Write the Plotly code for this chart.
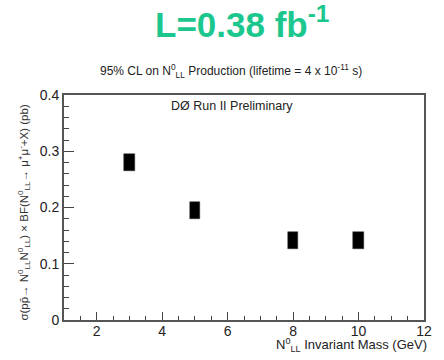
import plotly.graph_objects as go

# 95% CL limits on N0_LL production vs invariant mass
mass_gev = [3, 5, 8, 10]
xsec_pb = [0.280, 0.194, 0.141, 0.142]
box_half_height = 0.015   # half height of each result box (pb)
box_width = 0.33          # width of each result box (GeV)

x_ticks = [2, 4, 6, 8, 10, 12]
y_ticks = [0, 0.1, 0.2, 0.3, 0.4]
y_tick_text = ["0", "0.1", "0.2", "0.3", "0.4"]

FONT = "Liberation Sans Narrow, Arial Narrow, Liberation Sans, Arial, sans-serif"

fig = go.Figure()
fig.add_trace(go.Bar(
    x=mass_gev,
    y=[2 * box_half_height] * len(mass_gev),
    base=[v - box_half_height for v in xsec_pb],
    width=box_width,
    marker=dict(color="black", line=dict(color="#333", width=0.5)),
    showlegend=False,
))

fig.update_layout(
    width=444, height=360,
    margin=dict(l=63.6, r=16.3, t=95, b=39.5),
    paper_bgcolor="white", plot_bgcolor="white",
    font=dict(family=FONT, color="#222", size=12),
    xaxis=dict(
        range=[1, 12], tickvals=x_ticks, ticks="inside", ticklen=8,
        tickcolor="#444", tickwidth=1, showgrid=False, zeroline=False,
        showline=True, linecolor="#555", linewidth=2, mirror=True,
        tickfont=dict(size=14, family=FONT, color="#222"),
        ticklabelstandoff=-3,
        minor=dict(dtick=0.5, ticks="inside", ticklen=4, tickcolor="#444", showgrid=False),
    ),
    yaxis=dict(
        range=[0, 0.4], tickvals=y_ticks, ticktext=y_tick_text, ticks="inside", ticklen=10,
        tickcolor="#444", tickwidth=1, showgrid=False, zeroline=False,
        showline=True, linecolor="#555", linewidth=2, mirror=True,
        tickfont=dict(size=14, family=FONT, color="#222"),
        minor=dict(dtick=0.02, ticks="inside", ticklen=5, tickcolor="#444", showgrid=False),
    ),
    bargap=0,
)

annotations = [
    dict(text="<b>L=0.38 fb<sup>-1</sup></b>", x=244, y=22, font=dict(size=35, color="#1CC78E",
         family="Liberation Sans, Arial, sans-serif")),
    dict(text="95% CL on N<sup>0</sup><sub>LL</sub> Production (lifetime = 4 x 10<sup>-11</sup> s)",
         x=232, y=71, font=dict(size=12, family=FONT, color="#222")),
    dict(text="DØ Run II Preliminary", x=234, y=106.5, font=dict(size=12.5, family=FONT, color="#222")),
]
for a in annotations:
    fig.add_annotation(
        text=a["text"], xref="paper", yref="paper",
        x=(a["x"] - 63.6) / 364.1, y=(320.5 - a["y"]) / 225.5,
        xanchor="center", yanchor="middle", showarrow=False, font=a["font"],
    )

# axis titles
fig.add_annotation(
    text="N<sup>0</sup><sub>LL</sub> Invariant Mass (GeV)",
    xref="paper", yref="paper", x=(433 - 63.6) / 364.1, y=(320.5 - 346) / 225.5,
    xanchor="right", yanchor="middle", showarrow=False,
    font=dict(size=13, family=FONT, color="#222"),
)
fig.add_annotation(
    text="σ(pp̄→ N<sup>0</sup><sub>LL</sub>N<sup>0</sup><sub>LL</sub>) × BF(N<sup>0</sup><sub>LL</sub>→ μ<sup>+</sup>μ<sup>-</sup>+X) (pb)",
    xref="paper", yref="paper", x=(23 - 63.6) / 364.1, y=(320.5 - 212) / 225.5,
    xanchor="center", yanchor="middle", textangle=-90, showarrow=False,
    font=dict(size=11.5, family=FONT, color="#333"),
)

fig.write_html("out.html")
